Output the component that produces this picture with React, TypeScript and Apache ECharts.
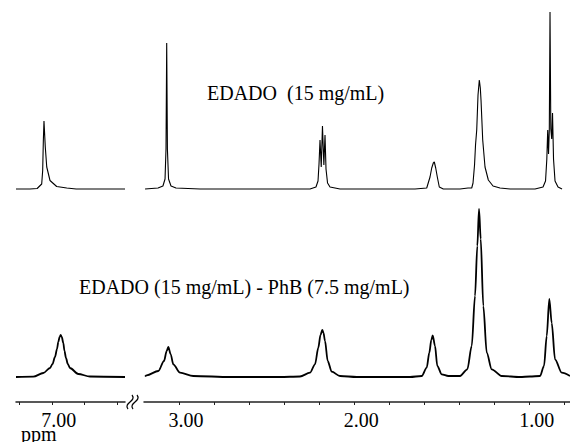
import React, { useEffect, useRef } from "react";
import * as echarts from "echarts";

// ---- data: [chemical shift (ppm), intensity (arb. units)] ----
const TOP_LEFT: [number, number][] = [
  [7.22, 0], [7.134, 0], [7.09, 0.5], [7.062, 5], [7.056, 18.5], [7.052, 48], [7.048, 68],
  [7.04, 42], [7.031, 22], [7.011, 8.5], [6.97, 2.5], [6.908, 1], [6.85, 0], [6.55, 0],
];

const TOP_RIGHT: [number, number][] = [
  [3.194, 0], [3.12, 1], [3.092, 3], [3.08, 10], [3.0745, 40], [3.0705, 146], [3.0665, 40],
  [3.06, 10], [3.046, 3], [3.0175, 1], [2.88, 0],
  [2.253, 0], [2.219, 2], [2.2074, 8], [2.2017, 25], [2.196, 49], [2.189, 22], [2.182, 63],
  [2.174, 24], [2.1675, 54], [2.1618, 20], [2.153, 6], [2.139, 2], [2.082, 0],
  [1.654, 0], [1.5873, 1], [1.5685, 12], [1.5588, 21], [1.5497, 26], [1.544, 27], [1.536, 21],
  [1.5269, 12], [1.5155, 2], [1.4927, 0],
  [1.3974, 0], [1.3517, 1], [1.3306, 1], [1.3232, 6], [1.3146, 24], [1.3089, 44], [1.3021, 59],
  [1.2947, 94], [1.2873, 109], [1.2816, 101], [1.2776, 89], [1.2679, 49], [1.2548, 22],
  [1.2359, 9], [1.2091, 3], [1.1692, 1], [1.1122, 0],
  [0.9695, 0], [0.9239, 2], [0.9096, 8], [0.9022, 30], [0.8971, 59], [0.8925, 35], [0.888, 60],
  [0.884, 177], [0.8794, 60], [0.8743, 50], [0.8697, 76], [0.864, 30], [0.8554, 8],
  [0.8383, 2], [0.8155, 0],
];

const BOTTOM_LEFT: [number, number][] = [
  [7.22, 0], [7.1137, 0.3], [7.0522, 4], [7.011, 9], [6.9957, 13], [6.9803, 20], [6.968, 28],
  [6.96, 35], [6.952, 40], [6.9453, 42], [6.9385, 40], [6.9293, 34], [6.9219, 26],
  [6.9127, 19], [6.9016, 13], [6.8881, 9], [6.8371, 3], [6.7652, 0.5], [6.55, 0],
];

const BOTTOM_RIGHT: [number, number][] = [
  [3.194, 0.5], [3.1846, 1.7], [3.1184, 6], [3.0859, 16], [3.0705, 26], [3.0614, 30],
  [3.0477, 22.7], [3.0329, 12.7], [2.9946, 4.3], [2.9188, 1], [2.7094, 0],
  [2.4242, 0], [2.3101, 0.5], [2.2531, 4.3], [2.2245, 12.7], [2.2057, 29.3], [2.1932, 42],
  [2.1829, 47], [2.176, 44], [2.1675, 36], [2.1521, 16], [2.1293, 5.3], [2.0819, 1], [1.9866, 0],
  [1.6826, 0], [1.6158, 1], [1.5873, 9.3], [1.5725, 24.3], [1.5611, 37], [1.5531, 41.7],
  [1.54, 31], [1.5269, 11], [1.5018, 2.7], [1.4641, 1],
  [1.443, 1], [1.3974, 1], [1.3557, 7.7], [1.3306, 31], [1.3118, 81], [1.2987, 131],
  [1.289, 168], [1.2793, 138], [1.2645, 71], [1.245, 24.3], [1.2166, 7.7], [1.1595, 1], [1.0551, 0],
  [0.9981, 0.5], [0.941, 1], [0.9182, 11], [0.9028, 41], [0.888, 78], [0.8743, 54],
  [0.8554, 17.7], [0.8172, 4.3], [0.7699, 1],
];

const LEFT_TICKS = [7.2, 7.0, 6.8, 6.6];
const LEFT_LABELS = [7.0];
const RIGHT_TICKS = [3.0, 2.8, 2.6, 2.4, 2.2, 2.0, 1.8, 1.6, 1.4, 1.2, 1.0, 0.8];
const RIGHT_LABELS = [3.0, 2.0, 1.0];

const TOP_TITLE = "EDADO\u00a0\u00a0(15 mg/mL)";
const BOTTOM_TITLE = "EDADO (15 mg/mL) - PhB (7.5 mg/mL)";
const UNIT = "ppm";

// vertical stacking offset of the upper spectrum
const TOP_OFFSET = 188;

const FONT = "'Liberation Serif', 'Times New Roman', serif";

export default function App() {
  const ref = useRef<HTMLDivElement>(null);

  useEffect(() => {
    const chart = echarts.init(ref.current!, null, { renderer: "svg" });

    const xAxis = (grid: number, min: number, max: number, ticks: number[], labels: number[]) => ({
      type: "value",
      gridIndex: grid,
      min,
      max,
      inverse: true,
      axisLine: { show: true, onZero: false, lineStyle: { color: "#222", width: 1.5 } },
      axisTick: {
        show: true,
        length: 3,
        customValues: ticks,
        lineStyle: { color: "#222", width: 1 },
      },
      axisLabel: {
        show: true,
        customValues: labels,
        formatter: (v: number) => v.toFixed(2),
        fontFamily: FONT,
        fontSize: 20,
        lineHeight: 16,
        color: "#000",
        margin: 10,
        padding: [0, 0, 0, 14],
      },
      splitLine: { show: false },
    });

    const yAxis = (grid: number) => ({
      type: "value",
      gridIndex: grid,
      min: -25,
      max: 377,
      show: false,
      splitLine: { show: false },
    });

    const lineSeries = (
      xi: number,
      data: [number, number][],
      width: number,
      offset: number,
      smooth: number
    ) => ({
      type: "line",
      xAxisIndex: xi,
      yAxisIndex: xi,
      data: data.map(([p, v]) => [p, v + offset]),
      showSymbol: false,
      symbol: "none",
      silent: true,
      smooth,
      smoothMonotone: "x",
      lineStyle: { color: "#000", width },
    });

    chart.setOption({
      animation: false,
      backgroundColor: "#fff",
      grid: [
        { left: 16, width: 109, top: 0, height: 402, containLabel: false, outerBoundsMode: "none" },
        { left: 144, width: 426, top: 0, height: 402, containLabel: false, outerBoundsMode: "none" },
      ],
      xAxis: [
        xAxis(0, 6.55, 7.22, LEFT_TICKS, LEFT_LABELS),
        xAxis(1, 0.77, 3.2, RIGHT_TICKS, RIGHT_LABELS),
      ],
      yAxis: [yAxis(0), yAxis(1)],
      series: [
        lineSeries(0, TOP_LEFT, 1.1, TOP_OFFSET, 0),
        lineSeries(0, BOTTOM_LEFT, 1.8, 0, 0.3),
        lineSeries(1, TOP_RIGHT, 1.1, TOP_OFFSET, 0),
        lineSeries(1, BOTTOM_RIGHT, 1.8, 0, 0.3),
      ],
      graphic: [
        {
          type: "text",
          x: 207,
          y: 93,
          style: { text: TOP_TITLE, fontFamily: FONT, fontSize: 20, fill: "#000", verticalAlign: "middle", align: "left" },
        },
        {
          type: "text",
          x: 79,
          y: 287,
          style: { text: BOTTOM_TITLE, fontFamily: FONT, fontSize: 20, fill: "#000", verticalAlign: "middle", align: "left" },
        },
        {
          type: "text",
          x: 21,
          y: 434,
          style: {
            text: UNIT,
            fontFamily: FONT,
            fontSize: 20,
            lineHeight: 12,
            fill: "#000",
            verticalAlign: "middle",
            align: "left",
          },
        },
        {
          type: "bezierCurve",
          shape: { x1: 128, y1: 409, cpx1: 123, cpy1: 403, cpx2: 137, cpy2: 401, x2: 132, y2: 395 },
          style: { stroke: "#000", lineWidth: 1.2, fill: null },
        },
        {
          type: "bezierCurve",
          shape: { x1: 133, y1: 409, cpx1: 128, cpy1: 403, cpx2: 142, cpy2: 401, x2: 137, y2: 395 },
          style: { stroke: "#000", lineWidth: 1.2, fill: null },
        },
      ],
    });

    return () => chart.dispose();
  }, []);

  return (
    <div
      ref={ref}
      style={{ position: "absolute", left: 0, top: 0, width: 570, height: 442, background: "#fff" }}
    />
  );
}
